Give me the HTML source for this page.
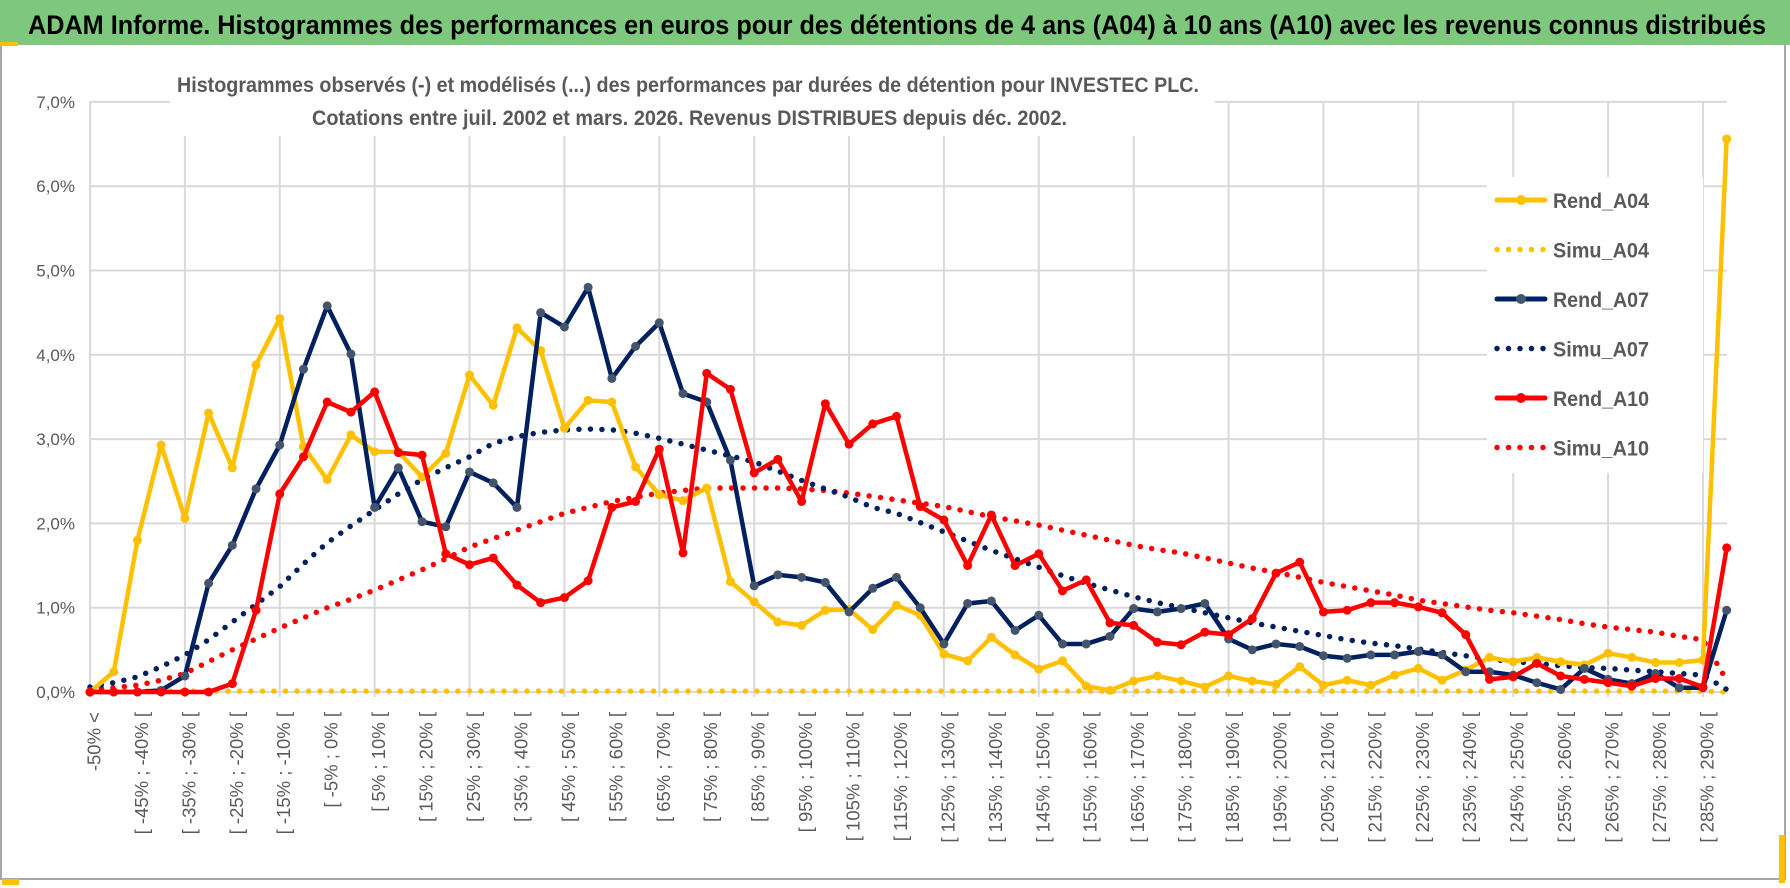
<!DOCTYPE html>
<html><head><meta charset="utf-8"><style>
html,body{margin:0;padding:0;background:#fff;}
svg{display:block;font-family:"Liberation Sans",sans-serif;}
</style></head><body>
<svg id="chart" width="1790" height="888" viewBox="0 0 1790 888" xmlns="http://www.w3.org/2000/svg">
<rect x="1" y="44" width="1784" height="835" fill="#fff" stroke="#a6a6a6" stroke-width="2"/>
<rect x="0" y="0" width="1790" height="45" fill="#7ec87e"/>
<rect x="0" y="42" width="18" height="4" fill="#ffc000"/>
<rect x="1779" y="835" width="6" height="48" fill="#ffc000"/>
<rect x="2" y="879" width="17" height="6" fill="#ffc000"/>
<text x="28" y="34" font-size="27" font-weight="bold" fill="#000" textLength="1738" lengthAdjust="spacingAndGlyphs">ADAM Informe. Histogrammes des performances en euros pour des détentions de 4 ans (A04) à 10 ans (A10) avec les revenus connus distribués</text>
<g id="grid"></g>
<g id="yaxis"></g>
<g id="xaxis"></g>
<rect x="170" y="60" width="1045" height="76" fill="#fff"/>
<text x="177" y="92" font-size="21" font-weight="bold" fill="#595959" textLength="1022" lengthAdjust="spacingAndGlyphs">Histogrammes observés (-) et modélisés (...) des performances par durées de détention pour INVESTEC PLC.</text>
<text x="312" y="125" font-size="21" font-weight="bold" fill="#595959" textLength="755" lengthAdjust="spacingAndGlyphs">Cotations entre juil. 2002 et mars. 2026. Revenus DISTRIBUES depuis déc. 2002.</text>
<g id="series"></g>
<rect x="1487" y="177" width="216" height="296" fill="#fff"/>
<g id="legend"></g>
</svg>
<script>
const categories = [];
categories.push('-50% <');
for (let a = -50; a < 290; a += 5) categories.push('[ ' + a + '% ; ' + (a + 5) + '% [');
categories.push('> 290%');
const yTicks = [0,1,2,3,4,5,6,7];
const yTickLabels = ['0,0%','1,0%','2,0%','3,0%','4,0%','5,0%','6,0%','7,0%'];

const rendA04 = [0,0.24,1.8,2.93,2.06,3.31,2.66,3.88,4.43,2.91,2.52,3.05,2.85,2.85,2.55,2.83,3.76,3.4,4.32,4.05,3.13,3.46,3.44,2.67,2.34,2.27,2.42,1.31,1.07,0.83,0.79,0.97,0.98,0.74,1.03,0.91,0.45,0.37,0.65,0.44,0.27,0.37,0.07,0.02,0.13,0.19,0.13,0.06,0.19,0.13,0.09,0.3,0.08,0.14,0.08,0.2,0.28,0.14,0.26,0.41,0.36,0.41,0.36,0.32,0.46,0.41,0.35,0.35,0.38,6.56];
const simuA04 = [0.01,0.01,0.01,0.01,0.01,0.01,0.01,0.01,0.01,0.01,0.01,0.01,0.01,0.01,0.01,0.01,0.01,0.01,0.01,0.01,0.01,0.01,0.01,0.01,0.01,0.01,0.01,0.01,0.01,0.01,0.01,0.01,0.01,0.01,0.01,0.01,0.01,0.01,0.01,0.01,0.01,0.01,0.01,0.01,0.01,0.01,0.01,0.01,0.01,0.01,0.01,0.01,0.01,0.01,0.01,0.01,0.01,0.01,0.01,0.01,0.01,0.01,0.01,0.01,0.01,0.01,0.01,0.01,0.01,0];
const rendA07 = [0,0,0,0.02,0.19,1.29,1.74,2.41,2.93,3.83,4.58,4.01,2.19,2.66,2.02,1.96,2.61,2.48,2.19,4.5,4.33,4.8,3.72,4.1,4.38,3.54,3.44,2.75,1.26,1.39,1.36,1.3,0.95,1.23,1.36,1.0,0.57,1.05,1.08,0.73,0.91,0.57,0.57,0.66,0.99,0.95,0.99,1.05,0.63,0.5,0.57,0.54,0.43,0.4,0.44,0.44,0.48,0.44,0.24,0.24,0.2,0.11,0.03,0.28,0.15,0.1,0.22,0.05,0.05,0.97];
const simuA07 = [0.06,0.11,0.18,0.3,0.44,0.62,0.83,1.04,1.25,1.52,1.77,1.97,2.16,2.35,2.52,2.66,2.79,2.95,3.03,3.08,3.11,3.12,3.11,3.07,3.01,2.94,2.87,2.8,2.73,2.62,2.51,2.41,2.31,2.19,2.12,2.01,1.9,1.79,1.68,1.58,1.48,1.38,1.29,1.21,1.13,1.06,1.0,0.94,0.88,0.82,0.77,0.72,0.67,0.62,0.58,0.55,0.51,0.47,0.43,0.39,0.36,0.34,0.31,0.29,0.28,0.26,0.24,0.22,0.2,0.03];
const rendA10 = [0,0,0,0,0,0,0.1,0.97,2.35,2.79,3.44,3.32,3.56,2.84,2.81,1.64,1.51,1.59,1.27,1.06,1.12,1.32,2.19,2.26,2.88,1.65,3.78,3.59,2.6,2.76,2.26,3.42,2.94,3.18,3.27,2.2,2.04,1.5,2.1,1.5,1.64,1.2,1.33,0.82,0.79,0.59,0.56,0.71,0.68,0.87,1.41,1.54,0.95,0.97,1.06,1.06,1.01,0.94,0.68,0.15,0.18,0.34,0.19,0.15,0.11,0.07,0.16,0.16,0.06,1.71];
const simuA10 = [0.03,0.05,0.08,0.14,0.22,0.36,0.5,0.63,0.76,0.88,1.0,1.1,1.21,1.33,1.45,1.58,1.72,1.82,1.92,2.02,2.12,2.19,2.26,2.31,2.36,2.39,2.42,2.42,2.42,2.42,2.41,2.39,2.36,2.32,2.28,2.24,2.2,2.14,2.08,2.03,1.98,1.92,1.86,1.8,1.74,1.69,1.65,1.59,1.53,1.47,1.42,1.36,1.3,1.25,1.2,1.15,1.09,1.05,1.01,0.97,0.94,0.9,0.86,0.81,0.77,0.74,0.71,0.66,0.62,0.14];

const NS = 'http://www.w3.org/2000/svg';
const X0 = 90, STEP = 23.72, Y0 = 692, PXPCT = 84.3, XR = 1727;
function xs(i){ return X0 + i*STEP; }
function ys(v){ return Y0 - v*PXPCT; }
function mk(tag, parent){ const e = document.createElementNS(NS, tag); parent.appendChild(e); return e; }

const grid = document.getElementById('grid');
yTicks.forEach(function(t){
  const l = mk('line', grid);
  
  
  l.setAttribute('x1', X0); l.setAttribute('x2', XR);
  l.setAttribute('y1', ys(t)); l.setAttribute('y2', ys(t));
  l.setAttribute('stroke', '#d9d9d9'); l.setAttribute('stroke-width', '2');
});
for (let i = 0; i < categories.length; i += 4) {
  const l = mk('line', grid);
  
  
  l.setAttribute('x1', xs(i)); l.setAttribute('x2', xs(i));
  l.setAttribute('y1', ys(7)); l.setAttribute('y2', Y0 + 5);
  l.setAttribute('stroke', '#d9d9d9'); l.setAttribute('stroke-width', '2');
}
const yax = document.getElementById('yaxis');
yTicks.forEach(function(t, k){
  const tx = mk('text', yax);
  
  
  tx.setAttribute('x', 75); tx.setAttribute('y', ys(t) + 6);
  tx.setAttribute('text-anchor', 'end'); tx.setAttribute('font-size', '17');
  tx.setAttribute('fill', '#595959');
  tx.textContent = yTickLabels[k];
});
const xax = document.getElementById('xaxis');
for (let i = 0; i < categories.length - 1; i += 2) {
  const tx = mk('text', xax);
  
  
  tx.setAttribute('transform', 'translate(' + (xs(i) + 4) + ',712) rotate(-90)');
  tx.setAttribute('text-anchor', 'end'); tx.setAttribute('dy', '0.35em');
  tx.setAttribute('font-size', '18.5'); tx.setAttribute('fill', '#595959');
  tx.textContent = categories[i];
}

const ser = document.getElementById('series');
function drawLine(data, color, dotted, markerColor, name){
  const g = mk('g', ser);
  
  
  const p = mk('polyline', g);
  
  
  p.setAttribute('points', data.map(function(v,i){ return xs(i)+','+ys(v); }).join(' '));
  p.setAttribute('fill', 'none'); p.setAttribute('stroke', color);
  p.setAttribute('stroke-linejoin', 'round');
  if (dotted) {
    p.setAttribute('stroke-width', '5.5'); p.setAttribute('stroke-linecap', 'round');
    p.setAttribute('stroke-dasharray', '0 11.5');
  } else {
    p.setAttribute('stroke-width', '4.5');
    data.forEach(function(v,i){
      const c = mk('circle', g);
      
      
      c.setAttribute('cx', xs(i)); c.setAttribute('cy', ys(v)); c.setAttribute('r', '4.5');
      c.setAttribute('fill', markerColor);
    });
  }
}
drawLine(simuA04, '#ffc000', true, null, 'simu-a04');
drawLine(simuA10, '#ff0000', true, null, 'simu-a10');
drawLine(simuA07, '#002060', true, null, 'simu-a07');
drawLine(rendA04, '#ffc000', false, '#ffc000', 'rend-a04');
drawLine(rendA07, '#002060', false, '#44546a', 'rend-a07');
drawLine(rendA10, '#ff0000', false, '#ff0000', 'rend-a10');

const legendNames = ['Rend_A04','Simu_A04','Rend_A07','Simu_A07','Rend_A10','Simu_A10'];
const legendColors = ['#ffc000','#ffc000','#002060','#002060','#ff0000','#ff0000'];
const legendMarkers = ['#ffc000',null,'#44546a',null,'#ff0000',null];
const leg = document.getElementById('legend');
legendNames.forEach(function(n, k){
  const y = 200 + k*49.5;
  const g = mk('g', leg);
  
  
  const l = mk('line', g);
  
  
  l.setAttribute('x1', 1497); l.setAttribute('x2', 1545); l.setAttribute('y1', y); l.setAttribute('y2', y);
  l.setAttribute('stroke', legendColors[k]); l.setAttribute('stroke-linecap', 'round');
  if (legendMarkers[k]) {
    l.setAttribute('stroke-width', '5');
    const c = mk('circle', g);
    
    
    c.setAttribute('cx', 1521); c.setAttribute('cy', y); c.setAttribute('r', '5');
    c.setAttribute('fill', legendMarkers[k]);
  } else {
    l.setAttribute('stroke-width', '5.5'); l.setAttribute('stroke-dasharray', '0 11.5');
  }
  const t = mk('text', g);
  
  
  t.setAttribute('x', 1553); t.setAttribute('y', y + 8);
  t.setAttribute('font-size', '21'); t.setAttribute('font-weight', 'bold'); t.setAttribute('fill', '#595959');
  t.setAttribute('textLength', '96'); t.setAttribute('lengthAdjust', 'spacingAndGlyphs');
  t.textContent = n;
});
</script>
</body></html>
